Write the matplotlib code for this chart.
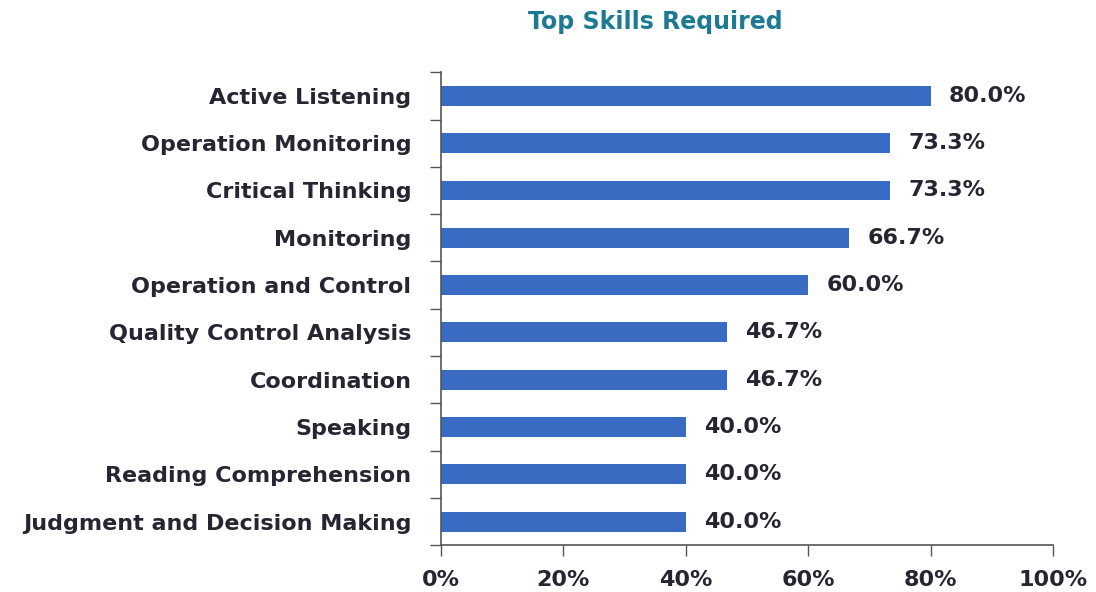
import matplotlib
matplotlib.use("Agg")
import matplotlib.pyplot as plt
import numpy as np
from matplotlib.ticker import FixedLocator

skills = ["Active Listening", "Operation Monitoring", "Critical Thinking", "Monitoring",
          "Operation and Control", "Quality Control Analysis", "Coordination", "Speaking",
          "Reading Comprehension", "Judgment and Decision Making"]
values = [80.0, 73.3, 73.3, 66.7, 60.0, 46.7, 46.7, 40.0, 40.0, 40.0]
xticks = [0, 20, 40, 60, 80, 100]
xticklabels = ["0%", "20%", "40%", "60%", "80%", "100%"]

plt.rcParams['font.family'] = ['DejaVu Sans']
fig = plt.figure(figsize=(10.96, 5.92), dpi=100)
ax = fig.add_axes([0.402, 0.079, 0.559, 0.799])

txt = "#262633"
y = np.arange(len(skills))
ax.barh(y, values, height=0.42, color="#3a6bc3")
ax.set_ylim(len(skills) - 0.5, -0.5)
ax.set_xlim(0, 100)
ax.set_yticks(y)
ax.set_yticklabels(skills, fontsize=16, fontweight="bold", color=txt)
ax.yaxis.set_minor_locator(FixedLocator(np.arange(-0.5, len(skills), 1.0)))
ax.tick_params(axis="y", which="major", length=0, pad=21)
ax.tick_params(axis="y", which="minor", length=8, color="#555555", width=1)
ax.set_xticks(xticks)
ax.set_xticklabels(xticklabels, fontsize=16, fontweight="bold", color=txt)
ax.tick_params(axis="x", length=8, color="#555555", width=1, pad=10)

for s in ["top", "right"]:
    ax.spines[s].set_visible(False)
for s in ["left", "bottom"]:
    ax.spines[s].set_color("#555555")
    ax.spines[s].set_linewidth(1.2)

for yi, v in zip(y, values):
    ax.text(v + 3.0, yi, f"{v:.1f}%", va="center", ha="left", fontsize=16,
            fontweight="bold", color=txt)

fig.text(0.598, 0.962, "Top Skills Required", ha="center", va="center",
         fontsize=17, fontweight="bold", color="#1d7a93")

fig.savefig("out.png", dpi=100)
